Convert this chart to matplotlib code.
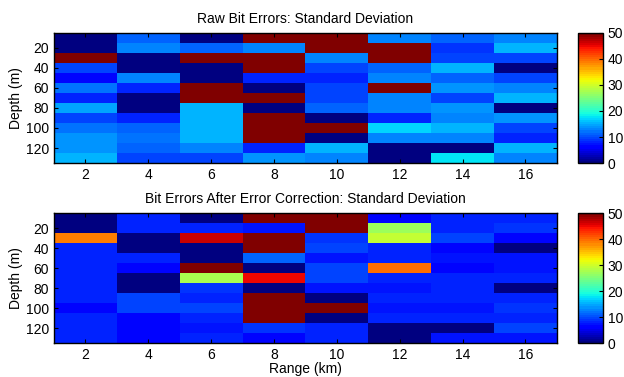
import numpy as np
import matplotlib
matplotlib.use('Agg')
import matplotlib.pyplot as plt

plt.rcParams['font.family'] = ['Liberation Sans', 'DejaVu Sans']

# range centres (km) and depth centres (m)
ranges = [2, 4, 6, 8, 10, 12, 14, 16]
depths = [10, 20, 30, 40, 50, 60, 70, 80, 90, 100, 110, 120, 130]

# std dev of raw bit errors, one row per depth
raw_std = [
    [0, 11, 0, 50, 50, 12.5, 11, 12.5],
    [0, 12.5, 11, 12.5, 50, 50, 9, 15],
    [50, 0, 50, 50, 12.5, 50, 10, 10],
    [10, 0, 0, 50, 10, 11, 15, 0],
    [7, 13, 0, 8.5, 8, 12.5, 11, 10],
    [12, 8, 50, 0, 10, 50, 14, 13],
    [8.5, 0, 49.5, 50, 10, 12.5, 10, 15],
    [14.5, 0, 15, 0, 11.5, 12.5, 13.5, 0],
    [10, 8, 15.5, 50, 0, 8, 12.5, 13.5],
    [12, 11, 15.5, 50, 50, 17, 15.5, 10],
    [13.5, 12, 15.5, 50, 0, 13, 13, 8],
    [14, 11.5, 12.5, 8.5, 15, 0, 0, 15],
    [15, 10, 10, 13.5, 13, 0, 17.5, 12.5],
]

# std dev of bit errors after error correction
fec_std = [
    [0, 8, 0, 50, 50, 6.5, 8, 8],
    [0, 8, 8, 7.5, 50, 27, 8.5, 9],
    [38.5, 0, 46.5, 50, 9, 29, 9.5, 7],
    [8, 0, 0, 50, 9.5, 8.5, 6.5, 0],
    [8, 8, 0, 11, 7.5, 8, 7.5, 7.5],
    [8, 6.5, 50, 0, 10, 39.5, 7, 7.5],
    [8.5, 0, 28, 45, 10, 8, 8, 8],
    [8, 0, 9, 0, 7.5, 7.5, 8, 0],
    [8.5, 10, 8, 50, 0, 8.5, 8.5, 8],
    [7, 9.5, 10, 50, 50, 7.5, 7.5, 9],
    [8, 6.5, 8, 50, 0, 8.5, 8.5, 8.5],
    [8, 6.5, 7.5, 9, 8, 0, 0, 10],
    [8.5, 6.5, 8, 7, 8, 0, 7.5, 7.5],
]

titles = ['Raw Bit Errors: Standard Deviation',
          'Bit Errors After Error Correction: Standard Deviation']

x_edges = np.append(np.array(ranges) - 1, ranges[-1] + 1)
y_edges = np.append(np.array(depths) - 5, depths[-1] + 5)
cmap = plt.get_cmap('jet', 64)

fig = plt.figure(figsize=(6.24, 3.77), dpi=100)

panels = [(raw_std, 0.5676), (fec_std, 0.090)]
for i, (vals, bottom) in enumerate(panels):
    ax = fig.add_axes([0.0865, bottom, 0.806, 0.345])
    mesh = ax.pcolormesh(x_edges, y_edges, np.array(vals), cmap=cmap, vmin=0, vmax=50)
    ax.set_xlim(1, 17)
    ax.set_ylim(135, 5)
    ax.set_xticks(ranges)
    ax.set_yticks([20, 40, 60, 80, 100, 120])
    ax.tick_params(direction='in', top=True, right=True, labelsize=10, length=3, width=0.8)
    ax.set_title(titles[i], fontsize=10, pad=7)
    ax.set_ylabel('Depth (m)', fontsize=10, labelpad=2)
    if i == 1:
        ax.set_xlabel('Range (km)', fontsize=10, labelpad=0)
    for s in ax.spines.values():
        s.set_linewidth(1.0)

    cax = fig.add_axes([0.926, bottom, 0.040, 0.345])
    cb = fig.colorbar(mesh, cax=cax, ticks=[0, 10, 20, 30, 40, 50])
    cb.ax.tick_params(direction='in', labelsize=10, length=3)
    cb.outline.set_linewidth(1.0)

plt.savefig('out.png', dpi=100)
